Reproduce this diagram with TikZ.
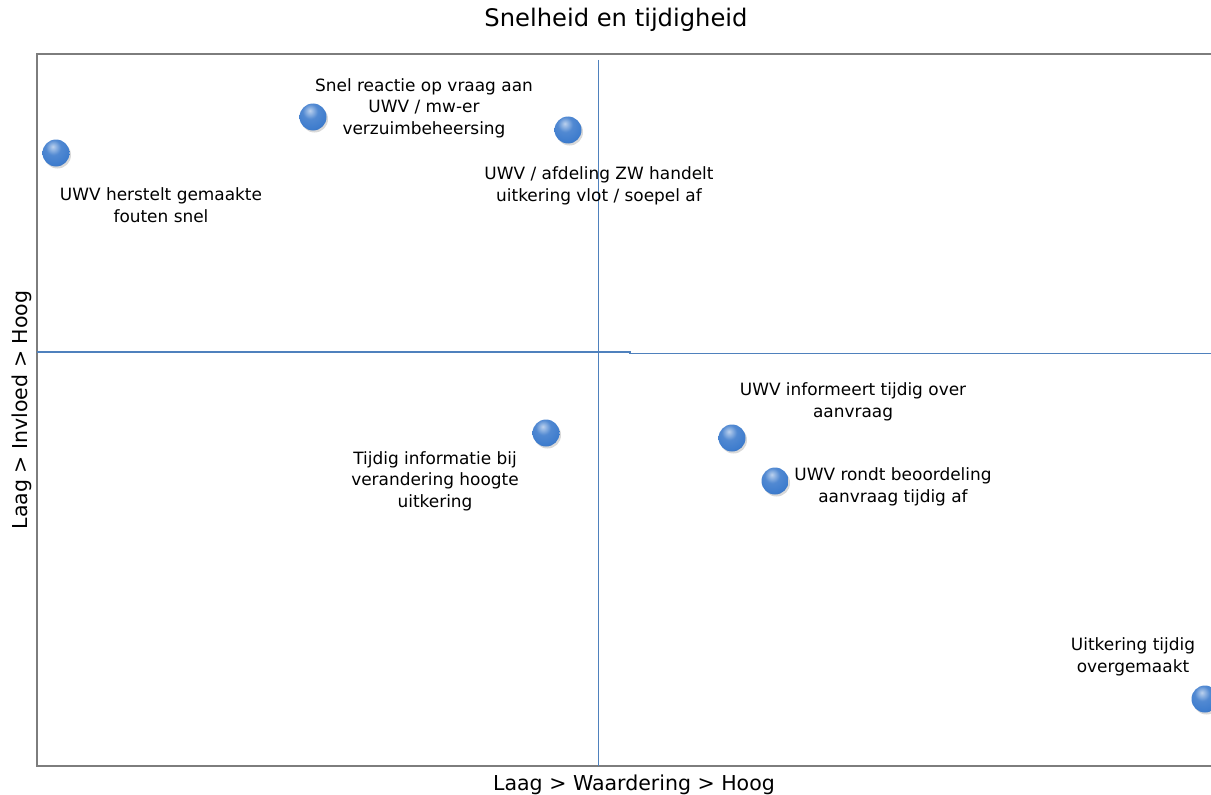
\documentclass[tikz,border=0pt]{standalone}
\usepackage{fontspec}
\setmainfont{DejaVu Sans}
\usetikzlibrary{shadows}
\definecolor{frame}{RGB}{125,125,125}
\definecolor{axisblue}{RGB}{79,129,189}
\definecolor{ballblue}{RGB}{62,124,205}
\pgfdeclareradialshading{myball}{\pgfpoint{-6bp}{12bp}}{%
  color(0bp)=(ballblue!35!white);
  color(14bp)=(ballblue!90!white);
  color(30bp)=(ballblue);
  color(48bp)=(ballblue!75!black);
  color(62bp)=(ballblue!60!black);
  color(100bp)=(ballblue!60!black)}
\tikzset{
  lbl/.style={align=center, font=\fontsize{17}{21.5}\selectfont, inner sep=0pt, text=black},
  dot/.style={circle, minimum size=27bp, inner sep=0pt, shading=myball,
     drop shadow={opacity=0.3, shadow xshift=1.5bp, shadow yshift=-2bp}},
  axisline/.style={draw=axisblue, line width=1.1bp},
  framel/.style={draw=frame, line width=1.6bp}
}
\begin{document}
\begin{tikzpicture}[x=1bp, y=-1bp]
\useasboundingbox (0,0) rectangle (1211,795);
% frame
\coordinate (ftr) at (1211,54);
\coordinate (ftl) at (37,54);
\coordinate (fbl) at (37,766);
\coordinate (fbr) at (1211,766);
\draw[framel] (ftr) -- (ftl) -- (fbl) -- (fbr);
% axes
\coordinate (vt) at (598.5,60);
\coordinate (vb) at (598.5,766);
\draw[axisline] (vt) -- (vb);
\coordinate (hl) at (37,352);
\coordinate (hm) at (630,352);
\coordinate (hm2) at (630,353.3);
\coordinate (hr) at (1211,353.3);
\draw[axisline] (hl) -- (hm) -- (hm2) -- (hr);
% titles
\node[font=\fontsize{24.3}{28}\selectfont] (title) at (616,20) {Snelheid en tijdigheid};
\node[font=\fontsize{20.6}{24}\selectfont] (xlab) at (634,785) {Laag > Waardering > Hoog};
\node[font=\fontsize{20.6}{24}\selectfont, rotate=90] (ylab) at (22,410) {Laag > Invloed > Hoog};
% points
\node[dot] (p1) at (56,153) {};
\node[lbl] (t1) at (161,205) {UWV herstelt gemaakte\\fouten snel};
\node[dot] (p2) at (313,117) {};
\node[lbl] (t2) at (424,108) {Snel reactie op vraag aan\\UWV / mw-er\\verzuimbeheersing};
\node[dot] (p3) at (568,130) {};
\node[lbl] (t3) at (599,186) {UWV / afdeling ZW handelt\\uitkering vlot / soepel af};
\node[dot] (p4) at (546,433) {};
\node[lbl] (t4) at (435,481) {Tijdig informatie bij\\verandering hoogte\\uitkering};
\node[dot] (p5) at (732,438) {};
\node[lbl] (t5) at (853,402) {UWV informeert tijdig over\\aanvraag};
\node[dot] (p6) at (775,481) {};
\node[lbl] (t6) at (893,487) {UWV rondt beoordeling\\aanvraag tijdig af};
\node[dot] (p7) at (1205,699) {};
\node[lbl] (t7) at (1133,657) {Uitkering tijdig\\overgemaakt};
\end{tikzpicture}
\end{document}
